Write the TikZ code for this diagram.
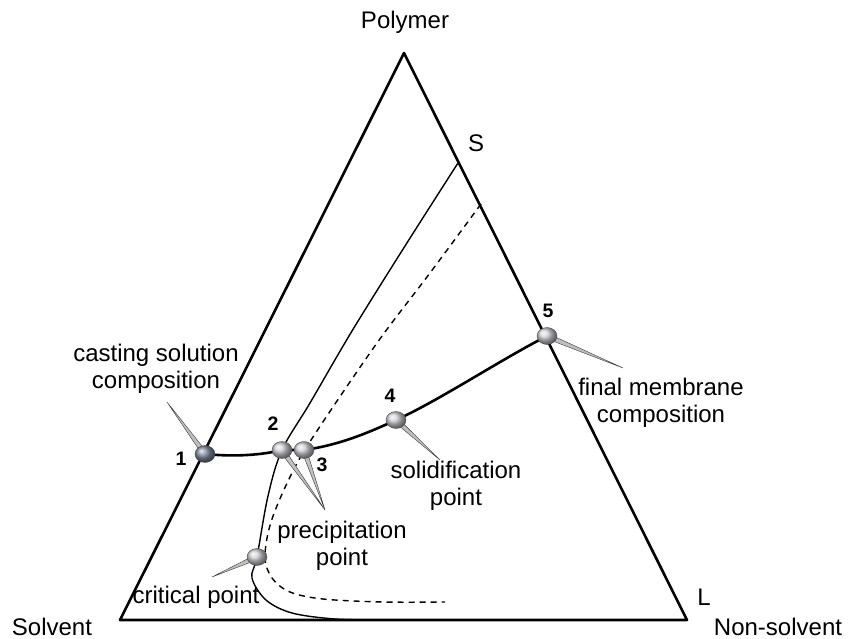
\documentclass[tikz,border=0pt]{standalone}
\usepackage{fontspec}
\setmainfont{Liberation Sans}
\usetikzlibrary{calc}
\definecolor{balldark}{RGB}{130,140,160}
\definecolor{balllight}{RGB}{210,210,215}
\tikzset{
  lbl/.style={font=\fontsize{24}{27}\selectfont, align=center, inner sep=0pt},
  num/.style={font=\fontsize{19.5}{21}\selectfont\bfseries, inner sep=0pt},
  edge/.style={line width=2.6pt, line join=round},
  binodal/.style={line width=1.4pt},
  spinodal/.style={line width=1.4pt, dash pattern=on 6pt off 5pt},
  pathline/.style={line width=2.6pt},
  needle/.style={fill=gray!50, draw=gray!45!black, line width=0.4pt, line join=round},
}
\newcommand{\pinneedle}[2]{%
  \filldraw[needle] ($(#1)!2.6pt!90:(#2)$) -- (#2) -- ($(#1)!2.6pt!-90:(#2)$) -- cycle;}
\newcommand{\pinball}[2]{%
  \shade[ball color=#2] (#1) ellipse [x radius=10pt, y radius=8.5pt];
  \draw[gray!60!black, line width=0.4pt] (#1) ellipse [x radius=10pt, y radius=8.5pt];}
\begin{document}
\begin{tikzpicture}[x=1pt,y=-1pt]
\useasboundingbox (0,0) rectangle (851,639);
% corners
\coordinate (A) at (404,53);
\coordinate (B) at (120,620);
\coordinate (C) at (687,620);
\draw[edge] (A) -- (B) -- (C) -- cycle;
% key points
\coordinate (Sp) at (458,163);
\coordinate (Dp) at (481,204);
\coordinate (p1) at (205,454);
\coordinate (p2) at (282,450);
\coordinate (p3) at (304,450);
\coordinate (p4) at (396,420);
\coordinate (p5) at (547,336);
\coordinate (pc) at (257,557);
% binodal
\draw[binodal] plot[smooth, tension=0.55] coordinates {(Sp) (405,246) (352,331) (310,403) (p2) (268,496) (pc) (252,578) (266,600) (292,613) (335,619) (385,620)};
% spinodal
\draw[spinodal] plot[smooth, tension=0.55] coordinates {(Dp) (430,273) (377,343) (313,437) (290,477) (271,522) (265,557) (272,578) (290,592) (323,599) (383,602) (445,602)};
% composition path
\draw[pathline] (p1) .. controls (235,457) and (262,455) .. (p2) -- (p3)
  .. controls (340,445) and (370,432) .. (p4)
  .. controls (440,400) and (500,360) .. (p5);
% needle tips
\coordinate (t1) at (167,402);
\coordinate (t2) at (325,510);
\coordinate (t4) at (440,460);
\coordinate (t5) at (623,368);
\coordinate (tc) at (212,577);
\pinneedle{p1}{t1}
\pinneedle{p2}{t2}
\pinneedle{p3}{t2}
\pinneedle{p4}{t4}
\pinneedle{p5}{t5}
\pinneedle{pc}{tc}
\pinball{p1}{balldark}
\pinball{p2}{balllight}
\pinball{p3}{balllight}
\pinball{p4}{balllight}
\pinball{p5}{balllight}
\pinball{pc}{balllight}
% labels
\node[lbl] (polymer) at (405,22) {Polymer};
\node[lbl] (slab) at (476,143) {S};
\node[lbl] (llab) at (704,597) {L};
\node[lbl] (solvent) at (52,627) {Solvent};
\node[lbl] (nonsolvent) at (778,627) {Non-solvent};
\node[lbl] (casting) at (156,369) {casting solution\\composition};
\node[lbl] (final) at (661,403) {final membrane\\composition};
\node[lbl] (solid) at (456,486) {solidification\\point};
\node[lbl] (precip) at (342,546) {precipitation\\point};
\node[lbl] (crit) at (196,597) {critical point};
\node[num] (n1) at (181,459) {1};
\node[num] (n2) at (273,424) {2};
\node[num] (n3) at (322,465) {3};
\node[num] (n4) at (390,396) {4};
\node[num] (n5) at (548,311) {5};
\end{tikzpicture}
\end{document}
